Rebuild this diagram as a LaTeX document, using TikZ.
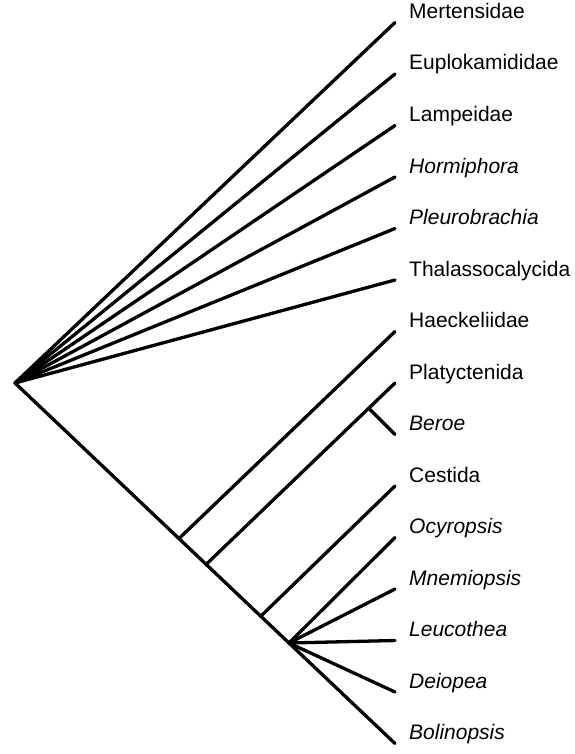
\documentclass[tikz,border=0pt]{standalone}
\usepackage{fontspec}
\setmainfont{Liberation Sans}
\begin{document}
\begin{tikzpicture}[x=1pt,y=-1pt,
  branch/.style={line width=3.3pt, line cap=round},
  leaf/.style={anchor=base west, inner sep=0pt, font=\fontsize{21}{24}\selectfont}]
\useasboundingbox (0,0) rectangle (574,754);
% tips
\foreach \i in {0,...,14} {
  \coordinate (t\i) at (395, {22.5+51.5*\i});
}
\coordinate (root) at (15,383);
\coordinate (nH) at (179,538.5);
\coordinate (nPB) at (206,564.5);
\coordinate (nP) at (370,409.5);
\coordinate (nC) at (261,616);
\coordinate (nL) at (289,643);
% labels
\node[leaf] (l0) at ([xshift=14pt,yshift=4pt]t0) {Mertensidae};
\node[leaf] (l1) at ([xshift=14pt,yshift=4pt]t1) {Euplokamididae};
\node[leaf] (l2) at ([xshift=14pt,yshift=4pt]t2) {Lampeidae};
\node[leaf] (l3) at ([xshift=14pt,yshift=4pt]t3) {\itshape Hormiphora};
\node[leaf] (l4) at ([xshift=14pt,yshift=4pt]t4) {\itshape Pleurobrachia};
\node[leaf] (l5) at ([xshift=14pt,yshift=4pt]t5) {Thalassocalycida};
\node[leaf] (l6) at ([xshift=14pt,yshift=4pt]t6) {Haeckeliidae};
\node[leaf] (l7) at ([xshift=14pt,yshift=4pt]t7) {Platyctenida};
\node[leaf] (l8) at ([xshift=14pt,yshift=4pt]t8) {\itshape Beroe};
\node[leaf] (l9) at ([xshift=14pt,yshift=4pt]t9) {Cestida};
\node[leaf] (l10) at ([xshift=14pt,yshift=4pt]t10) {\itshape Ocyropsis};
\node[leaf] (l11) at ([xshift=14pt,yshift=4pt]t11) {\itshape Mnemiopsis};
\node[leaf] (l12) at ([xshift=14pt,yshift=4pt]t12) {\itshape Leucothea};
\node[leaf] (l13) at ([xshift=14pt,yshift=4pt]t13) {\itshape Deiopea};
\node[leaf] (l14) at ([xshift=14pt,yshift=4pt]t14) {\itshape Bolinopsis};
% upper fan
\foreach \i in {0,...,5} {
  \draw[branch] (root) -- (t\i);
}
% lower clade
\draw[branch] (root) -- (nL);
\draw[branch] (nL) -- (t14);
\draw[branch] (nH) -- (t6);
\draw[branch] (nPB) -- (t7);
\draw[branch] (nP) -- (t8);
\draw[branch] (nC) -- (t9);
\draw[branch] (nL) -- (t10);
\draw[branch] (nL) -- (t11);
\draw[branch] (nL) -- (t12);
\draw[branch] (nL) -- (t13);
\end{tikzpicture}
\end{document}
